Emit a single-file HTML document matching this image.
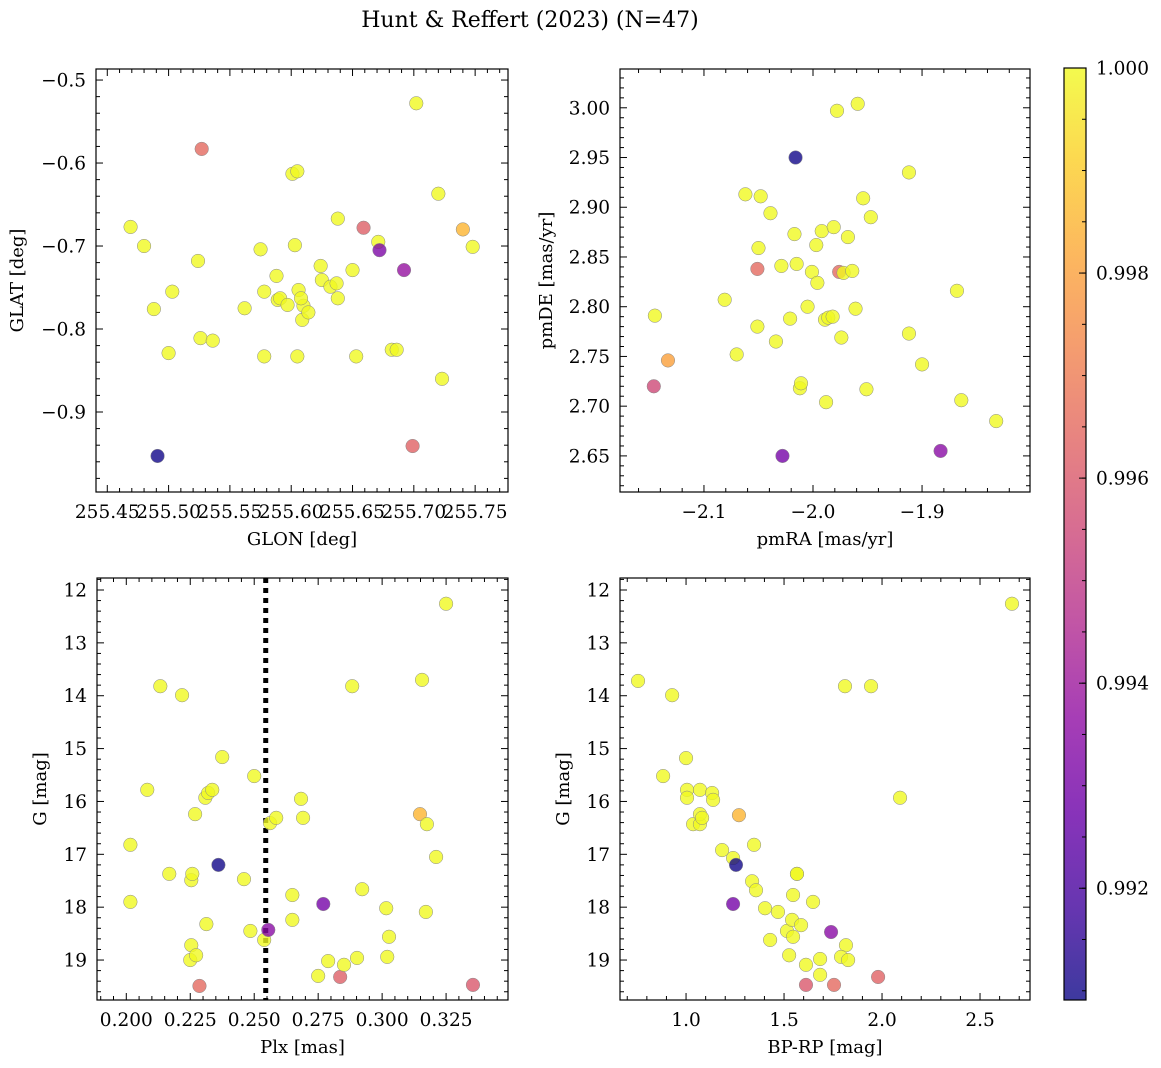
<!DOCTYPE html>
<html><head><meta charset="utf-8">
<style>
html,body{margin:0;padding:0;background:#fff;}
svg{display:block;font-family:"DejaVu Serif","Liberation Serif",serif;}
</style></head>
<body>
<svg id="fig" width="1161" height="1068" viewBox="0 0 1161 1068" xmlns="http://www.w3.org/2000/svg">
<defs>
<linearGradient id="plasma" x1="0" y1="1" x2="0" y2="0">
<stop offset="0" stop-color="#0d0887"/><stop offset="0.1" stop-color="#41049d"/><stop offset="0.2" stop-color="#6a00a8"/><stop offset="0.3" stop-color="#8f0da4"/><stop offset="0.4" stop-color="#b12a90"/><stop offset="0.5" stop-color="#cc4778"/><stop offset="0.6" stop-color="#e16462"/><stop offset="0.7" stop-color="#f2844b"/><stop offset="0.8" stop-color="#fca636"/><stop offset="0.9" stop-color="#fcce25"/><stop offset="1" stop-color="#f0f921"/>
</linearGradient>
</defs>
<text x="530" y="27" font-size="22" text-anchor="middle">Hunt &amp; Reffert (2023) (N=47)</text>
</svg>
<script>
// ---- data: [x, y, membership probability] ----
const glonVals=[255.469,255.480,255.488,255.503,255.500,255.524,255.526,255.536,255.527,255.491,255.562,255.575,255.578,255.578,255.588,255.589,255.591,255.597,255.601,255.605,255.603,255.606,255.605,255.609,255.610,255.614,255.624,255.625,255.632,255.637,255.638,255.638,255.650,255.653,255.659,255.671,255.672,255.682,255.686,255.692,255.699,255.702,255.720,255.723,255.740,255.748,255.608];
const glatVals=[-0.677,-0.700,-0.776,-0.755,-0.829,-0.718,-0.811,-0.814,-0.583,-0.953,-0.775,-0.704,-0.755,-0.833,-0.736,-0.765,-0.763,-0.771,-0.613,-0.610,-0.699,-0.753,-0.833,-0.789,-0.772,-0.780,-0.724,-0.741,-0.749,-0.745,-0.667,-0.763,-0.729,-0.833,-0.678,-0.695,-0.705,-0.825,-0.825,-0.729,-0.941,-0.528,-0.637,-0.860,-0.680,-0.701,-0.763];
const glonProb=[1,1,1,1,1,1,1,1,0.9965,0.9910,1,1,1,1,1,1,1,1,1,1,1,1,1,1,1,1,1,1,1,1,1,1,1,1,0.9962,1,0.9932,1,1,0.9938,0.9963,1,1,1,0.9985,1,1];

const pmraVals=[-2.145,-2.146,-2.133,-2.081,-2.070,-2.062,-2.048,-2.050,-2.051,-2.051,-2.039,-2.034,-2.029,-2.021,-2.017,-2.015,-2.012,-2.011,-2.016,-2.005,-2.001,-1.997,-1.996,-1.992,-1.989,-1.988,-1.986,-1.982,-1.981,-1.978,-1.974,-1.976,-1.972,-1.968,-1.964,-1.961,-1.959,-1.954,-1.951,-1.947,-2.028,-1.912,-1.912,-1.883,-1.900,-1.868,-1.864,-1.832];
const pmdeVals=[2.791,2.720,2.746,2.807,2.752,2.913,2.911,2.859,2.780,2.838,2.894,2.765,2.841,2.788,2.873,2.843,2.718,2.723,2.950,2.800,2.835,2.862,2.824,2.876,2.787,2.704,2.789,2.790,2.880,2.997,2.769,2.835,2.834,2.870,2.836,2.798,3.004,2.909,2.717,2.890,2.650,2.935,2.773,2.655,2.742,2.816,2.706,2.685];
const pmProb=[1,0.9955,0.998,1,1,1,1,1,1,0.9965,1,1,1,1,1,1,1,1,0.9910,1,1,1,1,1,1,1,1,1,1,1,1,0.9965,1,1,1,1,1,1,1,1,0.9930,1,1,0.9935,1,1,1,1];

const plxVals=[0.2016,0.2016,0.2082,0.2133,0.2168,0.2218,0.2254,0.2258,0.2254,0.2250,0.2273,0.2269,0.2286,0.2309,0.2313,0.2320,0.2336,0.2360,0.2375,0.2460,0.2485,0.2500,0.2539,0.2555,0.2562,0.2586,0.2649,0.2649,0.2683,0.2691,0.2750,0.2770,0.2789,0.2836,0.2851,0.2883,0.2902,0.2922,0.3016,0.3020,0.3027,0.3148,0.3156,0.3175,0.3171,0.3211,0.3250,0.3355];
const gPlxVals=[16.82,17.90,15.78,13.82,17.37,13.99,17.49,17.37,18.72,19.00,18.91,16.24,19.49,15.93,18.32,15.84,15.78,17.20,15.16,17.47,18.45,15.52,18.62,18.43,16.41,16.31,17.77,18.24,15.95,16.31,19.30,17.94,19.02,19.32,19.09,13.82,18.96,17.66,18.02,18.94,18.56,16.24,13.70,16.43,18.09,17.05,12.26,19.47];
const plxProb=[1,1,1,1,1,1,1,1,1,1,1,1,0.9965,1,1,1,1,0.9910,1,1,1,1,1,0.9935,1,1,1,1,1,1,1,0.9930,1,0.9962,1,1,1,1,1,1,1,0.9985,1,1,1,1,1,0.9960];

const bprpVals=[0.755,0.929,0.883,1.000,1.005,1.005,1.036,1.071,1.071,1.071,1.082,1.133,1.138,1.184,1.240,1.255,1.270,1.337,1.347,1.357,1.403,1.429,1.469,1.515,1.526,1.541,1.546,1.546,1.566,1.566,1.587,1.612,1.612,1.648,1.684,1.684,1.740,1.240,1.811,1.816,1.791,1.827,1.755,1.944,1.980,2.092,2.663];
const gCmdVals=[13.72,13.99,15.52,15.18,15.78,15.93,16.43,15.78,16.43,16.24,16.31,15.84,15.97,16.92,17.07,17.20,16.26,17.51,16.82,17.68,18.02,18.62,18.09,18.45,18.91,18.24,18.56,17.77,17.37,17.37,18.34,19.09,19.47,17.90,18.98,19.28,18.47,17.94,13.82,18.72,18.94,19.00,19.47,13.82,19.32,15.93,12.26];
const cmdProb=[1,1,1,1,1,1,1,1,1,1,1,1,1,1,1,0.9910,0.9985,1,1,1,1,1,1,1,1,1,1,1,1,1,1,1,0.9960,1,1,1,0.9935,0.9930,1,1,1,1,0.9965,1,0.9963,1,1];

const plxLine=0.2545;
const cbTicks=[0.992,0.994,0.996,0.998,1.000];
const cMin=0.99091, cMax=1.0;

const NS="http://www.w3.org/2000/svg";
const svg=document.getElementById('fig');
function mk(tag,attrs,parent){const e=document.createElementNS(NS,tag);for(const k in attrs)e.setAttribute(k,attrs[k]);(parent||svg).appendChild(e);return e;}
const stops=[[13,8,135],[65,4,157],[106,0,168],[143,13,164],[177,42,144],[204,71,120],[225,100,98],[242,132,75],[252,166,54],[252,206,37],[240,249,33]];
function plasma(c){let t=(c-cMin)/(cMax-cMin);t=Math.max(0,Math.min(1,t))*10;const i=Math.min(9,Math.floor(t)),f=t-i;const a=stops[i],b=stops[i+1];return 'rgb('+a.map((v,k)=>Math.round(v+(b[k]-v)*f)).join(',')+')';}
function fmtMinus(s){return s.replace('-','\u2212');}
const FS=18.5;

function panel(o){
  const g=mk('g',{});
  
  
  const sx=v=>o.x0+(v-o.xmin)/(o.xmax-o.xmin)*(o.x1-o.x0);
  const sy=o.yinv?(v=>o.y0+(v-o.ymin)/(o.ymax-o.ymin)*(o.y1-o.y0)):(v=>o.y1-(v-o.ymin)/(o.ymax-o.ymin)*(o.y1-o.y0));
  if(o.vline!==undefined){
    const l=mk('line',{x1:sx(o.vline),x2:sx(o.vline),y1:o.y0,y2:o.y1,stroke:'#000','stroke-width':5,'stroke-dasharray':'5,5'},g);
    
    
  }
  for(let i=0;i<o.xs.length;i++){
    const c=mk('circle',{cx:sx(o.xs[i]),cy:sy(o.ys[i]),r:6.8,fill:plasma(o.cs[i]),'fill-opacity':0.8,stroke:'#888','stroke-width':0.5},g);
    
    
  }
  const f=mk('rect',{x:o.x0,y:o.y0,width:o.x1-o.x0,height:o.y1-o.y0,fill:'none',stroke:'#000','stroke-width':1.2},g);
  
  
  const eps=1e-9;
  for(let k=Math.ceil(o.xmin/o.xminor-eps);k*o.xminor<=o.xmax+eps;k++){
    const v=k*o.xminor;const major=Math.abs(v/o.xmajor-Math.round(v/o.xmajor))<1e-6;const L=major?7:4;const X=sx(v);
    mk('line',{x1:X,x2:X,y1:o.y1,y2:o.y1-L,stroke:'#000','stroke-width':1},g);
    mk('line',{x1:X,x2:X,y1:o.y0,y2:o.y0+L,stroke:'#000','stroke-width':1},g);
    if(major){const t=mk('text',{x:X,y:o.y1+26,'font-size':FS,'text-anchor':'middle'},g);t.textContent=fmtMinus(v.toFixed(o.xdec));
      }
  }
  for(let k=Math.ceil(o.ymin/o.yminor-eps);k*o.yminor<=o.ymax+eps;k++){
    const v=k*o.yminor;const major=Math.abs(v/o.ymajor-Math.round(v/o.ymajor))<1e-6;const L=major?7:4;const Y=sy(v);
    mk('line',{x1:o.x0,x2:o.x0+L,y1:Y,y2:Y,stroke:'#000','stroke-width':1},g);
    mk('line',{x1:o.x1,x2:o.x1-L,y1:Y,y2:Y,stroke:'#000','stroke-width':1},g);
    if(major){const t=mk('text',{x:o.x0-10,y:Y+6.5,'font-size':FS,'text-anchor':'end'},g);t.textContent=fmtMinus(v.toFixed(o.ydec));
      }
  }
  const xl=mk('text',{x:(o.x0+o.x1)/2,y:o.y1+53,'font-size':18,'text-anchor':'middle'},g);xl.textContent=o.xlabel;
  
  const yc=(o.y0+o.y1)/2;const yl=mk('text',{x:o.ylx,y:yc,'font-size':18,'text-anchor':'middle',transform:'rotate(-90 '+o.ylx+' '+yc+')'},g);yl.textContent=o.ylabel;
  
}

panel({name:'sky-position-panel',x0:96,x1:508,y0:69,y1:492,xmin:255.4408,xmax:255.7768,ymin:-0.9964,ymax:-0.4867,xmajor:0.05,xminor:0.01,ymajor:0.1,yminor:0.02,xdec:2,ydec:1,xs:glonVals,ys:glatVals,cs:glonProb,xlabel:'GLON [deg]',ylabel:'GLAT [deg]',ylx:23});
panel({name:'proper-motion-panel',x0:620,x1:1030,y0:69,y1:492,xmin:-2.177,xmax:-1.801,ymin:2.6137,ymax:3.039,xmajor:0.1,xminor:0.02,ymajor:0.05,yminor:0.01,xdec:1,ydec:2,xs:pmraVals,ys:pmdeVals,cs:pmProb,xlabel:'pmRA [mas/yr]',ylabel:'pmDE [mas/yr]',ylx:552});
panel({name:'parallax-magnitude-panel',x0:97,x1:508,y0:578,y1:1000,xmin:0.18855,xmax:0.3492,ymin:11.773,ymax:19.756,yinv:true,xmajor:0.025,xminor:0.005,ymajor:1,yminor:0.2,xdec:3,ydec:0,xs:plxVals,ys:gPlxVals,cs:plxProb,xlabel:'Plx [mas]',ylabel:'G [mag]',ylx:46,vline:plxLine});
panel({name:'color-magnitude-panel',x0:620,x1:1030,y0:578,y1:1000,xmin:0.663,xmax:2.755,ymin:11.773,ymax:19.756,yinv:true,xmajor:0.5,xminor:0.1,ymajor:1,yminor:0.2,xdec:1,ydec:0,xs:bprpVals,ys:gCmdVals,cs:cmdProb,xlabel:'BP-RP [mag]',ylabel:'G [mag]',ylx:569});

const cb=mk('g',{});


const cbx0=1064,cbx1=1086,cby0=68,cby1=1000;
const cy=v=>cby1-(v-cMin)/(cMax-cMin)*(cby1-cby0);
mk('rect',{x:cbx0,y:cby0,width:cbx1-cbx0,height:cby1-cby0,fill:'url(#plasma)','fill-opacity':0.8},cb);
mk('rect',{x:cbx0,y:cby0,width:cbx1-cbx0,height:cby1-cby0,fill:'none',stroke:'#000','stroke-width':1.2},cb);
for(let k=Math.ceil(cMin/0.0005);k*0.0005<=cMax+1e-9;k++){
  const v=k*0.0005;const Y=cy(v);
  mk('line',{x1:cbx1,x2:cbx1-4,y1:Y,y2:Y,stroke:'#000','stroke-width':1},cb);
}
cbTicks.forEach(v=>{const Y=cy(v);
  mk('line',{x1:cbx1,x2:cbx1-7,y1:Y,y2:Y,stroke:'#000','stroke-width':1},cb);
  const t=mk('text',{x:cbx1+10,y:Y+6.5,'font-size':FS},cb);t.textContent=v.toFixed(3);
  
  
});
</script>
</body></html>
